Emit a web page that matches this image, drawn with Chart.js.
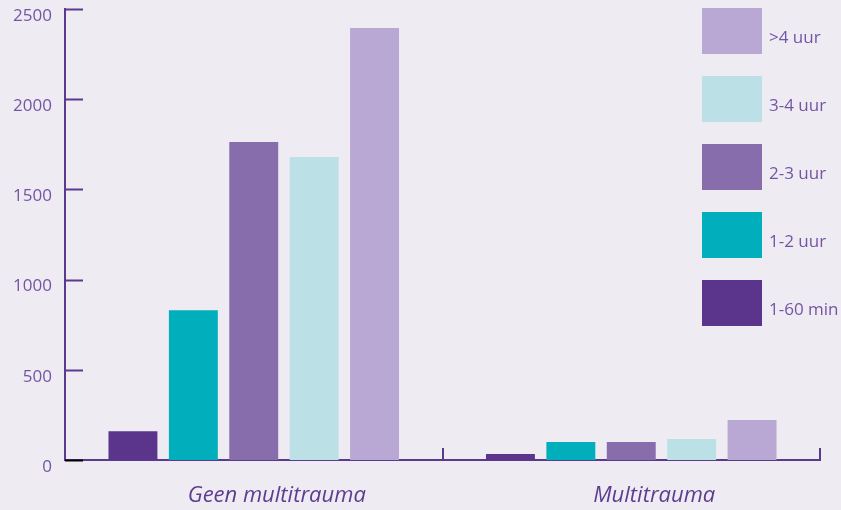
<!DOCTYPE html>
<html>
<head>
<meta charset="utf-8">
<script src="https://cdn.jsdelivr.net/npm/chart.js@4"></script>
<style>
    html, body { margin: 0; padding: 0; background: #eeebf3; }
    #wrap { width: 841px; height: 510px; position: relative; }
</style>
</head>
<body>
<div id="wrap"><canvas id="chart"></canvas></div>
<script>
// --- Data ---
const categories = ['Geen multitrauma', 'Multitrauma'];
const seriesLabels = ['1-60 min', '1-2 uur', '2-3 uur', '3-4 uur', '>4 uur'];
const min1to60 = [160, 33];
const uur1to2 = [830, 100];
const uur2to3 = [1763, 100];
const uur3to4 = [1680, 116];
const uurOver4 = [2395, 222];
const yTicks = [0, 500, 1000, 1500, 2000, 2500];

const seriesColors = ['#5a358b', '#00aebc', '#876dac', '#bbe0e5', '#b9a8d3'];
const axisColor = '#5b3a8e';
const textColor = '#7355a3';

// --- Plugin: ticks drawn on the inside of the axes ---
const innerTicks = {
    id: 'innerTicks',
    afterDraw(chart) {
        const { ctx, chartArea, scales: { x, y } } = chart;
        ctx.save();
        ctx.lineWidth = 2;
        y.ticks.forEach(t => {
            const py = Math.round(y.getPixelForValue(t.value)) + 0.5;
            ctx.strokeStyle = t.value === 0 ? '#000000' : axisColor;
            ctx.beginPath();
            ctx.moveTo(chartArea.left, py);
            ctx.lineTo(chartArea.left + 18, py);
            ctx.stroke();
        });
        ctx.strokeStyle = axisColor;
        for (let i = 1; i <= categories.length; i++) {
            const px = Math.round(x.getPixelForValue(i - 0.5));
            ctx.beginPath();
            ctx.moveTo(px, chartArea.bottom);
            ctx.lineTo(px, chartArea.bottom - 12);
            ctx.stroke();
        }
        ctx.restore();
    }
};

// --- Plugin: legend with big swatches, top item = last series ---
const boxLegend = {
    id: 'boxLegend',
    afterDraw(chart) {
        const { ctx } = chart;
        const ds = chart.data.datasets.slice().reverse();
        ctx.save();
        ctx.font = "17px 'Open Sans'";
        ctx.textBaseline = 'middle';
        ds.forEach((d, i) => {
            const top = 8 + i * 68;
            ctx.fillStyle = d.backgroundColor;
            ctx.fillRect(702, top, 60, 46);
            ctx.fillStyle = textColor;
            ctx.fillText(d.label, 769, top + 30);
        });
        ctx.restore();
    }
};

const allSeries = [min1to60, uur1to2, uur2to3, uur3to4, uurOver4];

new Chart(document.getElementById('chart'), {
    type: 'bar',
    data: {
        labels: categories,
        datasets: allSeries.map((vals, i) => ({
            label: seriesLabels[i],
            data: vals,
            backgroundColor: seriesColors[i],
            borderWidth: 0,
            categoryPercentage: 0.8,
            barPercentage: 0.81,
        }))
    },
    options: {
        responsive: true,
        maintainAspectRatio: false,
        animation: false,
        layout: { padding: { top: 9, right: 21, left: 0, bottom: 0 } },
        plugins: {
            legend: { display: false },
            tooltip: { enabled: false },
        },
        scales: {
            x: {
                grid: { display: false, offset: true },
                border: { display: true, color: axisColor, width: 2 },
                ticks: {
                    color: '#5e3d91',
                    padding: 15,
                    labelOffset: 23,
                    font: { size: 22, style: 'italic', family: "'Open Sans'" },
                },
                afterFit: s => { s.height = 50; s.paddingLeft = 0; s.paddingRight = 0; },
            },
            y: {
                min: 0,
                max: 2500,
                afterBuildTicks: s => { s.ticks = yTicks.map(v => ({ value: v })); },
                grid: { display: false },
                border: { display: true, color: axisColor, width: 2 },
                ticks: {
                    color: textColor,
                    padding: 5,
                    labelOffset: 7,
                    font: { size: 17, family: "'Open Sans'" },
                    callback: v => String(v),
                },
                afterFit: s => { s.width = 65; s.paddingTop = 0; s.paddingBottom = 0; },
            }
        }
    },
    plugins: [innerTicks, boxLegend]
});
</script>
</body>
</html>
